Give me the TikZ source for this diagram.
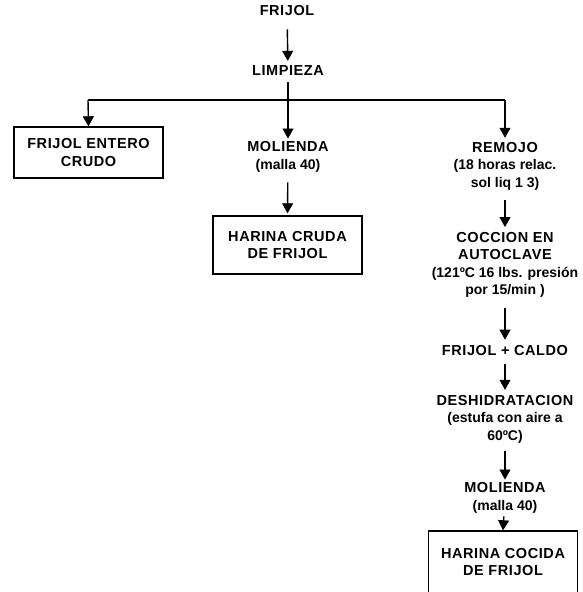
\documentclass[tikz,border=0pt]{standalone}
\usepackage{fontspec}
\setmainfont{Liberation Sans}
\newfontfamily\capsfont[LetterSpace=4]{Liberation Sans}
\newfontfamily\lowfont{Liberation Sans}
\newcommand\lw[1]{{\lowfont\bfseries\fontsize{14}{17.5}\selectfont #1}}
\usetikzlibrary{arrows.meta}
\tikzset{
  txt/.style={font=\capsfont\bfseries\fontsize{14.5}{17.5}\selectfont, align=center, inner sep=0pt},
  boxed/.style={txt, draw, line width=1.4pt, minimum width=149pt},
  arr/.style={line width=1.4pt, -{Triangle[width=11pt,length=10pt,fill=black,line width=0.8pt]}},
  ln/.style={line width=1.4pt},
}
\begin{document}
\begin{tikzpicture}[x=1pt,y=-1pt]
\useasboundingbox (0,0) rectangle (582,592);
\clip (0,0) rectangle (582,592);
% top
\node[txt] (frijol) at (287,11) {FRIJOL};
\node[txt] (limp) at (288,71) {LIMPIEZA};
% branches
\node[boxed, minimum height=51pt] (entero) at (88.5,152.5) {FRIJOL ENTERO\\CRUDO};
\node[txt] (mol1) at (288,157) {MOLIENDA\\\lw{(malla 40)}};
\node[boxed, minimum height=58pt] (cruda) at (287.5,245) {HARINA CRUDA\\DE FRIJOL};
\node[txt] (remojo) at (505,166) {REMOJO\\\lw{(18 horas  relac.}\\\lw{sol  liq  1 3)}};
\node[txt] (coccion) at (505,265) {COCCION EN\\AUTOCLAVE\\\lw{(121ºC 16 lbs. presión}\\\lw{por 15/min )}};
\node[txt] (caldo) at (505,351) {FRIJOL + CALDO};
\node[txt] (deshid) at (505,419) {DESHIDRATACION\\\lw{(estufa con aire a}\\\lw{60ºC)}};
\node[txt] (mol2) at (505,498) {MOLIENDA\\\lw{(malla 40)}};
\node[boxed, minimum height=62pt] (cocida) at (503,562) {HARINA COCIDA\\DE FRIJOL};
% junction coordinates
\coordinate (jl) at (88,100);
\coordinate (jr) at (505,100);
% connectors
\draw[arr, shorten <=13pt, shorten >=5pt] (frijol) -- (limp);
\draw[arr, shorten <=6pt, shorten >=3pt] (limp) -- (mol1);
\draw[ln] (jl) -- (jr);
\draw[arr] (jl) -- (entero.north);
\draw[arr, shorten >=4pt] (jr) -- (remojo.north);
\draw[arr, shorten <=10pt, shorten >=2pt] (mol1) -- (cruda.north);
\draw[arr, shorten <=10pt, shorten >=5pt] (remojo) -- (coccion);
\draw[arr, shorten <=10pt, shorten >=6pt] (coccion) -- (caldo);
\draw[arr, shorten <=8pt, shorten >=5pt] (caldo) -- (deshid);
\draw[arr, shorten <=8pt, shorten >=3pt] (deshid) -- (mol2);
\draw[arr, shorten <=3pt] (mol2) -- (cocida.north);
\end{tikzpicture}
\end{document}
